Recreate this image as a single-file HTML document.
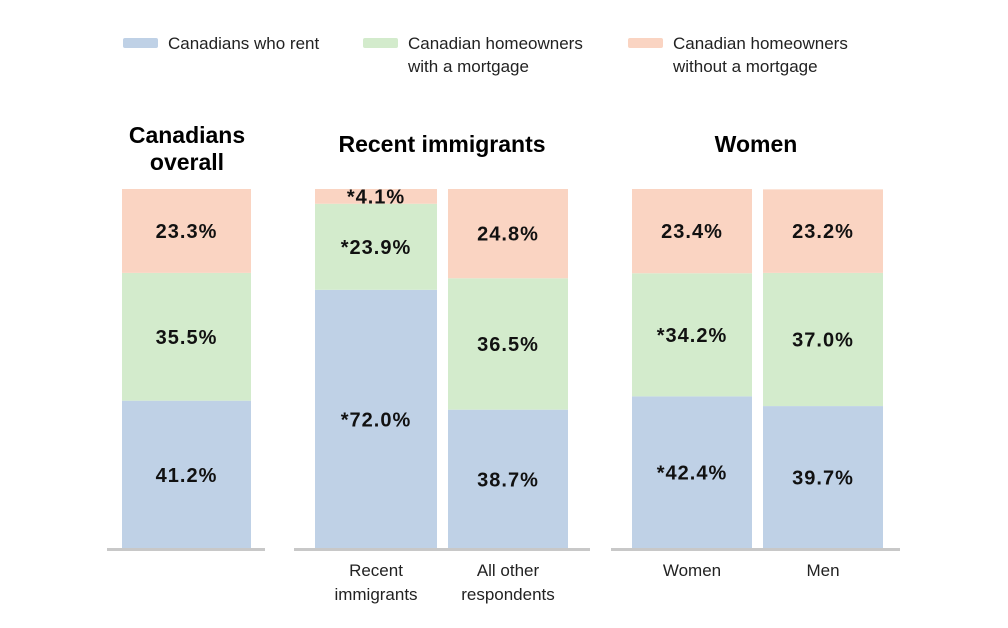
<!DOCTYPE html>
<html><head><meta charset="utf-8">
<style>
body{margin:0;background:#fff;font-family:"Liberation Sans",sans-serif;}
svg text{font-family:"Liberation Sans",sans-serif;}
</style></head>
<body>
<svg id="chart" width="1008" height="623" viewBox="0 0 1008 623">
<g>
 <rect x="123" y="38" width="35" height="10" rx="2" fill="#bfd1e6"/>
 <text x="168" y="49" font-size="17" fill="#222">Canadians who rent</text>
 <rect x="363" y="38" width="35" height="10" rx="2" fill="#d3ebcc"/>
 <text x="408" y="49" font-size="17" fill="#222"><tspan x="408">Canadian homeowners</tspan><tspan x="408" dy="23">with a mortgage</tspan></text>
 <rect x="628" y="38" width="35" height="10" rx="2" fill="#fad4c2"/>
 <text x="673" y="49" font-size="17" fill="#222"><tspan x="673">Canadian homeowners</tspan><tspan x="673" dy="23">without a mortgage</tspan></text>
</g>
<g>
 <text x="187" y="143" font-size="23" font-weight="bold" text-anchor="middle"><tspan x="187">Canadians</tspan><tspan x="187" dy="27">overall</tspan></text>
 <text x="442" y="152" font-size="23" font-weight="bold" text-anchor="middle">Recent immigrants</text>
 <text x="756" y="152" font-size="23" font-weight="bold" text-anchor="middle">Women</text>
</g>
<g id="bars"></g>
</svg>
<script>
const categories = ["Canadians overall","Recent immigrants","All other respondents","Women","Men"];
const rentValues = [41.2, 72.0, 38.7, 42.4, 39.7];
const mortgageValues = [35.5, 23.9, 36.5, 34.2, 37.0];
const noMortgageValues = [23.3, 4.1, 24.8, 23.4, 23.2];
const rentLabels = ["41.2%","*72.0%","38.7%","*42.4%","39.7%"];
const mortgageLabels = ["35.5%","*23.9%","36.5%","*34.2%","37.0%"];
const noMortgageLabels = ["23.3%","*4.1%","24.8%","23.4%","23.2%"];
const categoryLabels = [[],["Recent","immigrants"],["All other","respondents"],["Women"],["Men"]];

const barX = [122, 315, 448, 632, 763];
const barW = [129, 122, 120, 120, 120];
const baseY = 549, fullH = 360;
const y = v => v / 100 * fullH;
const ns = "http://www.w3.org/2000/svg";
const g = document.getElementById("bars");
const colors = ["#bfd1e6","#d3ebcc","#fad4c2"];
const names = ["rent","mortgage","no-mortgage"];

categories.forEach((c,i)=>{
  const vals=[rentValues[i],mortgageValues[i],noMortgageValues[i]];
  const labs=[rentLabels[i],mortgageLabels[i],noMortgageLabels[i]];
  let cur=baseY;
  vals.forEach((v,k)=>{
    const h=y(v);
    const r=document.createElementNS(ns,"rect");
    r.setAttribute("x",barX[i]);r.setAttribute("y",cur-h);
    r.setAttribute("width",barW[i]);r.setAttribute("height",h);
    r.setAttribute("fill",colors[k]);
    
    
    g.appendChild(r);
    const t=document.createElementNS(ns,"text");
    t.setAttribute("x",barX[i]+barW[i]/2);
    t.setAttribute("y",cur-h/2+7);
    t.setAttribute("text-anchor","middle");
    t.setAttribute("font-size","20");t.setAttribute("font-weight","bold");
    t.setAttribute("letter-spacing","1");t.setAttribute("fill","#111");
    t.textContent=labs[k];
    
    
    g.appendChild(t);
    cur-=h;
  });
  categoryLabels[i].forEach((s,j)=>{
    const t=document.createElementNS(ns,"text");
    t.setAttribute("x",barX[i]+barW[i]/2);
    t.setAttribute("y",576+j*24);
    t.setAttribute("text-anchor","middle");
    t.setAttribute("font-size","17");t.setAttribute("fill","#222");
    t.textContent=s;
    
    
    g.appendChild(t);
  });
});
[[107,265],[294,590],[611,900]].forEach((p,i)=>{
  const l=document.createElementNS(ns,"rect");
  l.setAttribute("x",p[0]);l.setAttribute("y",548);
  l.setAttribute("width",p[1]-p[0]);l.setAttribute("height",3);
  l.setAttribute("fill","#c8c8c8");
  
  
  g.appendChild(l);
});
</script>
</body></html>
